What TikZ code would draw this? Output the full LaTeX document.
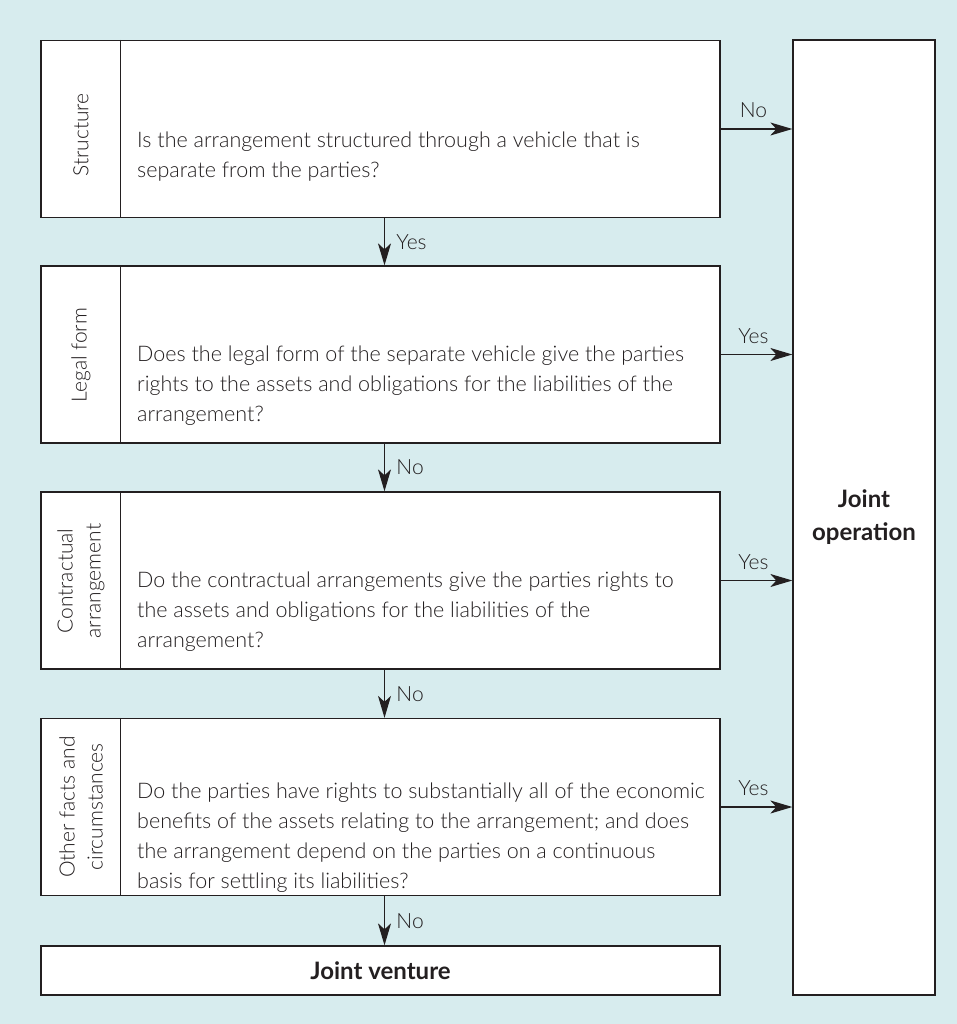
\documentclass[tikz,border=0pt]{standalone}
\usepackage{fontspec}
\setmainfont{Lato}[UprightFont={* Light}, BoldFont={* Bold}]
\usetikzlibrary{arrows.meta}
\definecolor{panel}{HTML}{D7ECEE}
\definecolor{ink}{HTML}{231F20}
\begin{document}
\begin{tikzpicture}[x=1pt,y=-1pt,
    box/.style={draw=ink, line width=1.3pt, fill=white, inner sep=0pt,
      minimum width=679pt, minimum height=177pt},
    side/.style={rotate=90, align=center, text=ink, font=\fontsize{21}{28}\selectfont},
    question/.style={anchor=west, align=left, inner sep=0pt, text=ink,
      font=\fontsize{21.5}{30}\selectfont},
    result/.style={draw=ink, line width=1.3pt, fill=white, align=center, text=ink,
      font=\fontsize{24}{33}\selectfont\bfseries},
    lbl/.style={text=ink, font=\fontsize{21}{24}\selectfont},
    flow/.style={draw=ink, -{Stealth[length=22pt,width=13pt,inset=6pt]}, line width=1.3pt}]
  \fill[panel] (0,0) rectangle (957,1024);
  \useasboundingbox (0,0) rectangle (957,1024);
  % question boxes
  \node[box] (s1) at (380.5,129) {};
  \node[box] (s2) at (380.5,354.5) {};
  \node[box] (s3) at (380.5,580.5) {};
  \node[box] (s4) at (380.5,807) {};
  \foreach \n in {s1,s2,s3,s4}
    \draw[ink, line width=1.3pt] ([xshift=80pt]\n.north west) -- ([xshift=80pt]\n.south west);
  \node[side] (t1) at (81,135) {Structure};
  \node[side] (t2) at (81,355) {Legal form};
  \node[side] (t3) at (81,581) {Contractual\\arrangement};
  \node[side] (t4) at (81,807) {Other facts and\\circumstances};
  \node[question] (q1) at (137,157) {Is the arrangement structured through a vehicle that is\\separate from the parties?};
  \node[question] (q2) at (137,386) {Does the legal form of the separate vehicle give the parties\\rights to the assets and obligations for the liabilities of the\\arrangement?};
  \node[question] (q3) at (137,612) {Do the contractual arrangements give the parties rights to\\the assets and obligations for the liabilities of the\\arrangement?};
  \node[question] (q4) at (137,838) {Do the parties have rights to substantially all of the economic\\benefits of the assets relating to the arrangement; and does\\the arrangement depend on the parties on a continuous\\basis for settling its liabilities?};
  % outcomes
  \node[result, minimum width=679pt, minimum height=49pt] (jv) at (380.5,970.5) {Joint venture};
  \node[result, minimum width=142pt, minimum height=955pt] (jo) at (864,517.5) {Joint\\operation};
  % connectors
  \draw[flow] ([xshift=4pt]s1.south) -- ([xshift=4pt]s2.north) node[lbl, midway, right=8pt] {Yes};
  \draw[flow] ([xshift=4pt]s2.south) -- ([xshift=4pt]s3.north) node[lbl, midway, right=8pt] {No};
  \draw[flow] ([xshift=4pt]s3.south) -- ([xshift=4pt]s4.north) node[lbl, midway, right=8pt] {No};
  \draw[flow] ([xshift=4pt]s4.south) -- ([xshift=4pt]jv.north) node[lbl, midway, right=8pt] {No};
  \draw[flow] (s1.east) -- (jo.west |- s1.east) node[lbl, midway, above=7pt, xshift=-3pt] {No};
  \draw[flow] (s2.east) -- (jo.west |- s2.east) node[lbl, midway, above=7pt, xshift=-3pt] {Yes};
  \draw[flow] (s3.east) -- (jo.west |- s3.east) node[lbl, midway, above=7pt, xshift=-3pt] {Yes};
  \draw[flow] (s4.east) -- (jo.west |- s4.east) node[lbl, midway, above=7pt, xshift=-3pt] {Yes};
\end{tikzpicture}
\end{document}
